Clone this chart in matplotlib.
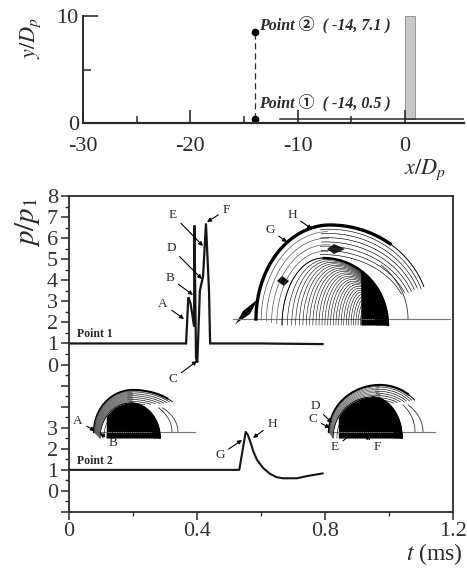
import numpy as np
import matplotlib
matplotlib.use("Agg")
import matplotlib.pyplot as plt
from matplotlib.patches import Rectangle

plt.rcParams["font.family"] = ["Liberation Serif", "DejaVu Serif"]
plt.rcParams["axes.unicode_minus"] = False
INK = "#2a2a2a"
W, H = 467, 569

# Upper sketch
point_x = [-14, -14]
point_y = [0.42, 8.5]
upper_xticks = [-30, -20, -10, 0]
upper_xminor = [-25, -15, -5]
upper_yticks = [0, 10]
upper_yminor = [5]

# Pressure traces, p/p1 against t (ms)
p1_t = [0, 0.367, 0.374, 0.381, 0.392, 0.393, 0.398, 0.402, 0.41, 0.42, 0.429, 0.4385, 0.442, 0.6, 0.793]
p1_p = [1, 1, 3.2, 2.9, 1.8, 6.6, 0.3, 0.1, 3.5, 4.2, 6.7, 3.5, 1, 1, 0.97]
p2_t = [0, 0.533, 0.543, 0.553, 0.56, 0.567, 0.577, 0.588, 0.608, 0.629, 0.65, 0.67, 0.712, 0.75, 0.793]
p2_p = [1, 1, 1.9, 2.8, 2.65, 2.35, 1.87, 1.48, 1.08, 0.81, 0.65, 0.6, 0.6, 0.72, 0.83]
p1_offset = 6

lower_xticks = [0, 0.4, 0.8, 1.2]
lower_xlabels = ["0", "0.4", "0.8", "1.2"]
lower_xminor = [0.2, 0.6, 1.0]
lower_yticks = [0, 1, 2, 3, 6, 7, 8, 9, 10, 11, 12, 13, 14]
lower_ylabels = ["0", "1", "2", "3", "0", "1", "2", "3", "4", "5", "6", "7", "8"]
lower_ymajor_plain = [-1, 4, 5]

# Letter callouts in the picture: letter, text position, arrow tip
callouts = [
    ("A", 163, 304, 184, 319), ("B", 170, 278, 193, 295), ("D", 171, 248, 202, 279),
    ("E", 173, 215, 203, 246), ("F", 226, 210, 207, 222), ("C", 173, 379, 197, 361),
    ("G", 270, 230, 287, 242), ("H", 292, 215, 312, 229),
    ("A", 78, 421, 95, 431), ("B", 113, 443, 100, 433),
    ("G", 220, 455, 242, 440), ("H", 272, 424, 253, 438),
    ("D", 315, 406, 332, 423), ("C", 313, 419, 330, 428),
    ("E", 335, 447, 353, 433), ("F", 377, 447, 365, 435),
]


def px_axes(fig, x0, y0, x1, y1):
    return fig.add_axes([x0 / W, 1 - y1 / H, (x1 - x0) / W, (y1 - y0) / H])


fig = plt.figure(figsize=(W / 100, H / 100), dpi=100)

# ---- upper sketch
ax = px_axes(fig, 83, 15.7, 464, 123.5)
ax.set_xlim(-30, 5.5)
ax.set_ylim(0, 10)
ax.patch.set_alpha(0)
for s in ["top", "right"]:
    ax.spines[s].set_visible(False)
ax.spines["left"].set_linewidth(1.4)
ax.spines["bottom"].set_linewidth(1.6)
ax.spines["left"].set_color(INK)
ax.spines["bottom"].set_color(INK)
ax.add_patch(Rectangle((0, 0.45), 0.9, 9.55, fc="#c8c8c8", ec="#8a8a8a", lw=0.6))
ax.plot([-11.6, 5.5], [0.45, 0.45], color=INK, lw=1.1)
ax.plot(point_x, point_y, "--", color=INK, lw=0.9, dashes=(5, 3))
ax.plot(point_x, point_y, "o", color="black", ms=4.5, clip_on=False)
ax.set_xticks(upper_xticks)
ax.set_xticks(upper_xminor, minor=True)
ax.set_yticks(upper_yticks)
ax.set_yticks(upper_yminor, minor=True)
ax.tick_params(axis="x", which="major", direction="in", length=9.5, width=1.2, color=INK,
               labelsize=16, labelcolor=INK, pad=10)
ax.tick_params(axis="x", which="minor", direction="in", length=5, width=1.1, color=INK)
ax.tick_params(axis="y", which="major", direction="in", length=10.5, width=1.2, color=INK,
               labelsize=16, labelcolor=INK, pad=3)
ax.tick_params(axis="y", which="minor", direction="in", length=5.5, width=1.1, color=INK)
for label, ly in [("Point ②  ( -14, 7.1 )", 9.15), ("Point ①  ( -14, 0.5 )", 1.9)]:
    ax.text(-13.6, ly, label, fontsize=11.5, style="italic", weight="bold",
            color=INK, va="center", family=["Liberation Serif", "Noto Sans CJK SC"])

# ---- pressure traces
ax2 = px_axes(fig, 68.5, 196, 453, 512)
ax2.set_xlim(0, 1.2)
ax2.set_ylim(-1, 14)
for s in ax2.spines.values():
    s.set_linewidth(1.3)
    s.set_color(INK)
ax2.plot(p1_t, [v + p1_offset for v in p1_p], color="#151515", lw=1.6, solid_joinstyle="miter")
ax2.plot(p2_t, p2_p, color="#151515", lw=1.5)
ax2.set_xticks(lower_xticks)
ax2.set_xticklabels(lower_xlabels)
ax2.set_xticks(lower_xminor, minor=True)
ax2.set_yticks(lower_yticks + lower_ymajor_plain)
ax2.set_yticklabels(lower_ylabels + [""] * len(lower_ymajor_plain))
ax2.set_yticks(np.arange(-0.5, 14, 0.5), minor=True)
ax2.tick_params(axis="both", which="major", length=5.5, width=1.1, color=INK,
                labelsize=16, labelcolor="#333333", pad=2)
ax2.tick_params(axis="both", which="minor", length=3.2, width=1.0, color=INK)

# ---- overlay in picture pixels for the contour sketches and callouts
ov = fig.add_axes([0, 0, 1, 1])
ov.set_xlim(0, W)
ov.set_ylim(H, 0)
ov.axis("off")


def arch(left, crown, right, top, base, n=120):
    # lopsided half ellipse from the left foot over the crown to the right foot
    a = np.linspace(0, np.pi, n)
    c = -np.cos(a)
    x = np.where(c < 0, crown + (crown - left) * c, crown + (right - crown) * c)
    return x, base - (base - top) * np.sin(a)


def dome(left, crown, shock_r, top, base, foot, in_l, in_c, in_r, in_top, tail_y,
         arc_rights, ground, n_inner, dark_from, n_band, lw_shock):
    ov.plot(ground, [base, base], color="#777777", lw=0.8)
    # nested curves of the inner dome, closing up towards its right foot
    for i in range(n_inner):
        f = i / (n_inner - 1)
        r = in_r - (in_r - in_l) * 0.12 * f
        l = in_l + (r - in_l) * f ** 0.85
        c = in_c + (r - in_c) * f ** 0.85
        x, y = arch(l, c, r, foot - (foot - in_top) * (1 - f) ** 0.7, foot)
        ov.plot(x, y, color="black", lw=0.4)
    # edge of the inner dome and its solid right part
    x, y = arch(in_l, in_c, in_r, in_top, foot)
    ov.plot(x, y, color="black", lw=0.6)
    keep = x >= in_c
    ov.plot(x[keep], y[keep], color="black", lw=lw_shock * 0.7)
    keep = x >= dark_from
    ov.fill_between(x[keep], y[keep], foot, color="black", lw=0)
    # leading shock out to the tail, heavy over the left and the crown
    x, y = arch(left, crown, shock_r, top, base, 160)
    keep = (x < crown) | (y < tail_y)
    heavy = keep & (x <= crown + (shock_r - crown) * 0.6)
    ov.plot(x[heavy], y[heavy], color="black", lw=lw_shock)
    light = keep & (x > crown + (shock_r - crown) * 0.55)
    ov.plot(x[light], y[light], color="black", lw=0.7)
    # curves behind the shock, fanning out to the tail
    for k in range(1, 8):
        x, y = arch(left, crown - 0.01 * (shock_r - crown) * k, shock_r - 0.018 * (shock_r - left) * k,
                    top + 0.045 * (base - top) * k, base, 120)
        keep = (x > crown - 0.1 * (shock_r - crown)) & (y < tail_y + 0.01 * (base - top) * k)
        ov.plot(x[keep], y[keep], color="black", lw=0.45)
    # band between shock and inner dome on the left
    for k in range(n_band):
        s = (k + 1) / (n_band + 1)
        x, y = arch(left + (in_l - left) * s, crown + (in_c - crown) * s, shock_r + (in_r - shock_r) * s,
                    top + (in_top - top) * s, base + (foot - base) * s, 100)
        keep = x < crown
        ov.plot(x[keep], y[keep], color="#555555", lw=0.5)
    # thin arcs coming down to the ground on the right
    for rx in arc_rights:
        x, y = arch(crown, crown, rx, top + (base - top) * 0.24, base, 100)
        keep = x > crown + (rx - crown) * 0.65
        ov.plot(x[keep], y[keep], color="#333333", lw=0.6)


dome(256, 330, 430, 225, 319, 325, 282, 323, 388, 258, 288, [408], [233, 450], 34, 360, 4, 2.4)
dome(94, 133, 190, 390, 432, 438, 100, 130, 160, 403, 402, [178, 172], [96, 195], 26, 106, 14, 1.6)
dome(329, 380, 427, 385, 432, 438, 333, 372, 402, 397, 400, [423, 415], [329, 435], 30, 338, 7, 1.6)

# dark knots of the large sketch
ov.fill([235, 243, 258, 250, 238], [325, 311, 299, 314, 322], color="black", lw=0)
ov.fill([277, 282, 289, 284], [281, 276, 281, 286], color="black", lw=0)
ov.fill([327, 334, 345, 334], [249, 244, 249, 254], color="#222222", lw=0)

for letter, tx, ty, ax_, ay_ in callouts:
    ov.annotate(letter, xy=(ax_, ay_), xytext=(tx, ty), fontsize=9.5, color=INK, ha="center", va="center",
                arrowprops=dict(arrowstyle="-|>", color="black", lw=0.8, mutation_scale=6, shrinkA=1, shrinkB=0))

ov.text(77, 334, "Point 1", fontsize=8.5, color=INK, va="center", weight="bold")
ov.text(77, 461, "Point 2", fontsize=8.5, color=INK, va="center", weight="bold")

# axis titles
ov.text(404, 170, "$x/D_p$", fontsize=16, color=INK, va="center", math_fontfamily="stix")
ov.text(31, 38, "$y/D_p$", fontsize=16, color=INK, rotation=90, ha="center", va="center", math_fontfamily="stix")
ov.text(28, 222, "$p/p_1$", fontsize=21, color=INK, rotation=90, ha="center", va="center", math_fontfamily="stix")
ov.text(406, 554, "$t$ (ms)", fontsize=17, color=INK, va="center", math_fontfamily="stix")

fig.savefig("out.png", dpi=100)
